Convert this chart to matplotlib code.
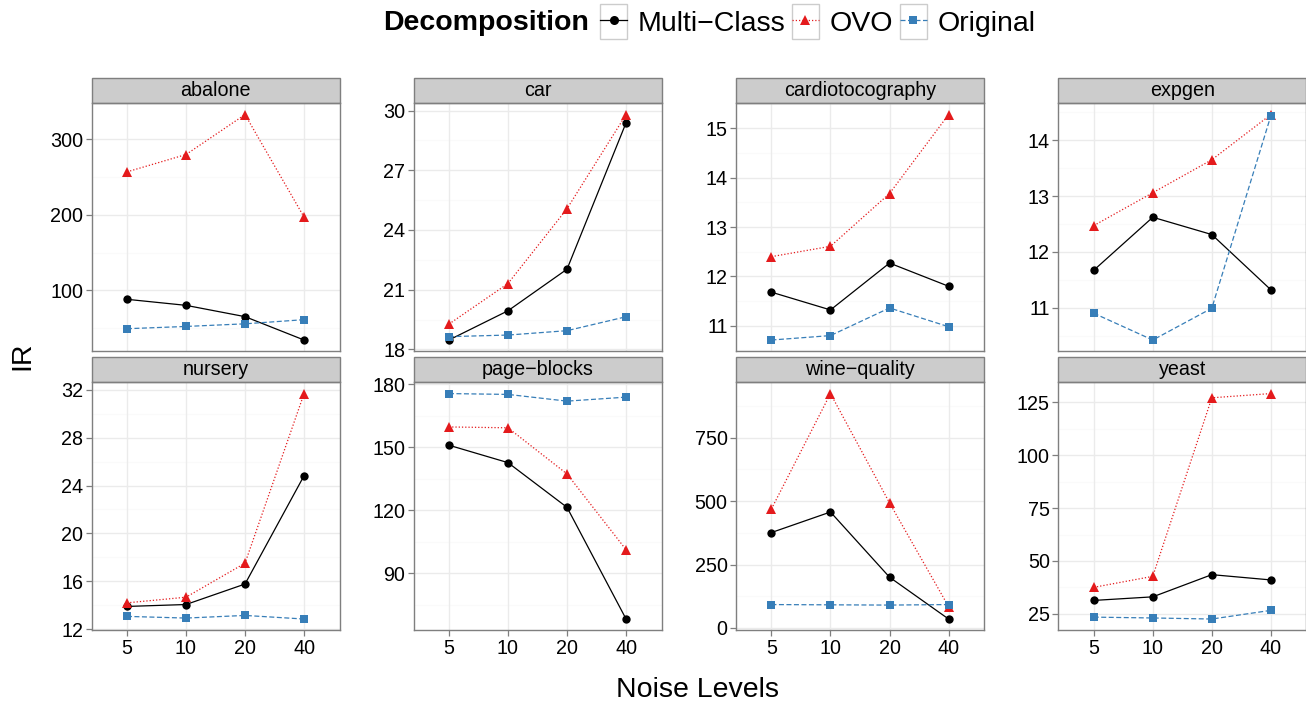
import matplotlib
matplotlib.use("Agg")
import matplotlib.pyplot as plt
from matplotlib.patches import Rectangle
from matplotlib.lines import Line2D
from matplotlib.legend_handler import HandlerLine2D
import numpy as np

plt.rcParams['font.family'] = ['Liberation Sans', 'DejaVu Sans']

datasets = ['abalone', 'car', 'cardiotocography', 'expgen',
            'nursery', 'page\u2212blocks', 'wine\u2212quality', 'yeast']
noise_levels = ['5', '10', '20', '40']

multi_class = [[88, 80, 65, 34],
               [18.47, 19.94, 22.03, 29.39],
               [11.68, 11.32, 12.27, 11.80],
               [11.67, 12.62, 12.31, 11.32],
               [13.91, 14.07, 15.78, 24.82],
               [150.9, 142.6, 121.3, 68.1],
               [376, 457, 200, 35],
               [31.3, 33.0, 43.5, 41.0]]
ovo = [[257, 280, 333, 197],
       [19.27, 21.31, 25.07, 29.80],
       [12.40, 12.61, 13.68, 15.28],
       [12.47, 13.06, 13.65, 14.46],
       [14.21, 14.68, 17.52, 31.67],
       [159.6, 159.2, 137.2, 101.1],
       [469, 924, 493, 84],
       [37.5, 42.7, 127.2, 129.2]]
original = [[49, 52, 55.5, 61],
            [18.64, 18.72, 18.94, 19.64],
            [10.71, 10.80, 11.36, 10.98],
            [10.90, 10.42, 10.99, 14.44],
            [13.08, 12.94, 13.16, 12.86],
            [175.5, 175.1, 171.9, 173.8],
            [92, 91, 90, 92],
            [23.4, 23.0, 22.5, 26.6]]
y_ticks = [[100, 200, 300],
           [18, 21, 24, 27, 30],
           [11, 12, 13, 14, 15],
           [11, 12, 13, 14],
           [12, 16, 20, 24, 28, 32],
           [90, 120, 150, 180],
           [0, 250, 500, 750],
           [25, 50, 75, 100, 125]]

series = [('Multi\u2212Class', multi_class, 'black', '-', 'o', 6.0),
          ('OVO', ovo, '#E41A1C', (0, (1, 1.6)), '^', 7.0),
          ('Original', original, '#377EB8', (0, (4, 2)), 's', 5.6)]

W, H = 1306, 703
fig = plt.figure(figsize=(W / 100, H / 100), dpi=100)

col_left = [91.5, 413.5, 736, 1058.3]
row_top = [103.3, 382.3]
pw, ph = 248, 248
strip_h = 25
tick_fs = 14.2
title_fs = 20.5
grey50 = '#7f7f7f'

x = np.arange(len(noise_levels))
for i, name in enumerate(datasets):
    r, c = divmod(i, 4)
    ax = fig.add_axes([col_left[c] / W, 1 - (row_top[r] + ph) / H, pw / W, ph / H])
    for label, data, color, ls, mk, ms in series:
        ax.plot(x, data[i], color=color, ls=ls, lw=0.9, marker=mk, ms=ms,
                markeredgewidth=0, zorder=3)
    vals = np.concatenate([s[1][i] for s in series])
    lo, hi = vals.min(), vals.max()
    pad = 0.05 * (hi - lo)
    ax.set_ylim(lo - pad, hi + pad)
    ax.set_xlim(-0.6, len(noise_levels) - 0.4)
    ticks = y_ticks[i]
    step = ticks[1] - ticks[0]
    minor = np.arange(ticks[0] - step / 2, ticks[-1] + step, step)
    minor = [m for m in minor if lo - pad < m < hi + pad]
    for m in minor:
        ax.axhline(m, color='#fafafa', lw=0.9, zorder=0)
    for t in ticks:
        ax.axhline(t, color='#ebebeb', lw=1.0, zorder=1)
    for xi in x:
        ax.axvline(xi, color='#ebebeb', lw=1.0, zorder=1)
    ax.set_yticks(ticks)
    ax.set_xticks(x)
    ax.tick_params(labelsize=tick_fs, colors=grey50, labelcolor='black',
                   length=4, width=0.9, pad=2)
    if r == 1:
        ax.set_xticklabels(noise_levels)
    else:
        ax.set_xticklabels([])
        ax.tick_params(axis='x', length=0)
    for sp in ax.spines.values():
        sp.set_color(grey50)
        sp.set_linewidth(1.0)
    ax.add_patch(Rectangle((0, 1), 1, strip_h / ph, transform=ax.transAxes,
                           facecolor='#cccccc', edgecolor=grey50, lw=1.0,
                           clip_on=False))
    ax.text(0.5, 1 + strip_h / ph / 2, name, transform=ax.transAxes,
            ha='center', va='center', fontsize=tick_fs)

fig.text(698 / W, 1 - 690 / H, 'Noise Levels', ha='center', va='center',
         fontsize=title_fs)
fig.text(22 / W, 1 - 356 / H, 'IR', ha='center', va='center', rotation=90,
         fontsize=title_fs)


class BoxedHandler(HandlerLine2D):
    def create_artists(self, legend, orig_handle, xdescent, ydescent,
                       width, height, fontsize, trans):
        arts = super().create_artists(legend, orig_handle, xdescent, ydescent,
                                      width, height, fontsize, trans)
        box = Rectangle((-xdescent, -ydescent - 0.2 * height), width,
                        height * 1.4, facecolor='white', edgecolor='#cccccc',
                        lw=1.0, transform=trans)
        return [box] + arts


handles = [Line2D([], [], color=color, ls=ls, lw=0.9, marker=mk, ms=ms + 0.5,
                  markeredgewidth=0)
           for label, data, color, ls, mk, ms in series]
labels = [s[0] for s in series]
fig.text(589 / W, 1 - 23 / H, 'Decomposition', ha='right', va='center',
         fontsize=title_fs, fontweight='bold')
fig.legend(handles, labels, loc='center left',
           bbox_to_anchor=(600 / W, 1 - 23 / H), ncol=3, frameon=False,
           fontsize=title_fs, handlelength=0.95, handleheight=1.0,
           handletextpad=0.38, columnspacing=0.22, borderpad=0, borderaxespad=0,
           numpoints=1, handler_map={Line2D: BoxedHandler()})

fig.savefig('out.png', dpi=100)
